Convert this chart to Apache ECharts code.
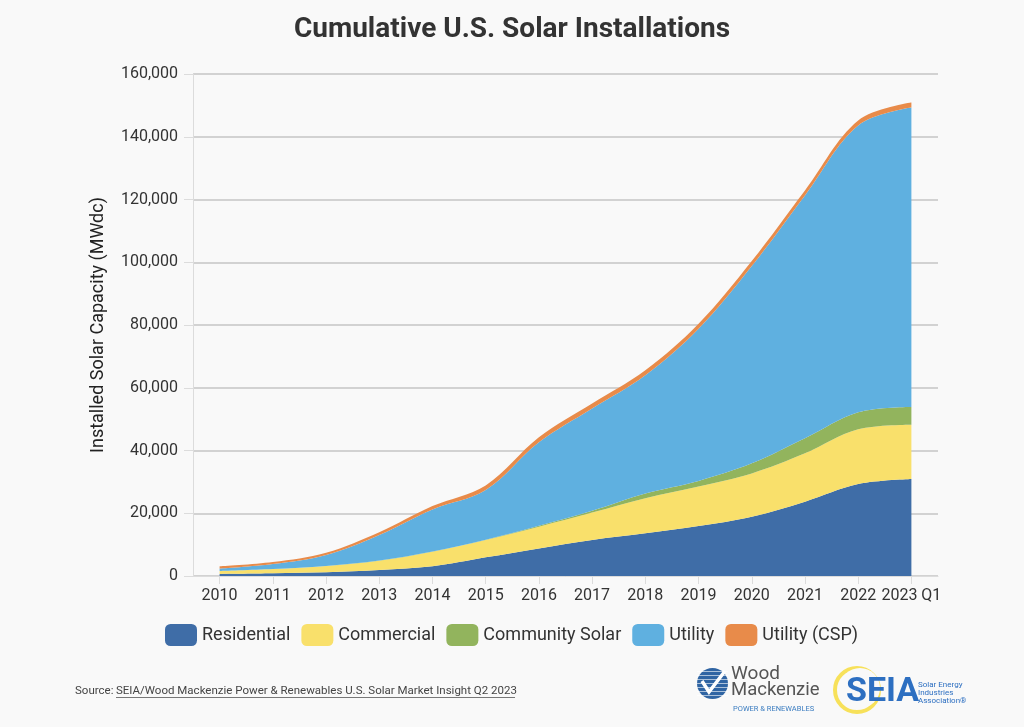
<!DOCTYPE html>
<html>
<head>
<meta charset="utf-8">
<script src="https://cdn.jsdelivr.net/npm/echarts@6/dist/echarts.min.js"></script>
<style>
html,body{margin:0;padding:0;background:#f9f9f9;}
#chart{width:1024px;height:727px;}
</style>
</head>
<body>
<div id="chart"></div>
<script>
const categories = ['2010','2011','2012','2013','2014','2015','2016','2017','2018','2019','2020','2021','2022','2023 Q1'];
const residential = [640, 850, 1170, 1910, 3090, 5950, 8800, 11500, 13600, 15900, 18900, 23700, 29300, 30900];
const commercial = [960, 1380, 2020, 2980, 4660, 5500, 6900, 8700, 11200, 12600, 13800, 15400, 17450, 17300];
const communitySolar = [0, 0, 0, 20, 50, 100, 300, 600, 1500, 1800, 3200, 4800, 5450, 5700];
const utility = [740, 1570, 3510, 8160, 13400, 15830, 26600, 32600, 37700, 48500, 62900, 77400, 91400, 95400];
const utilityCSP = [760, 660, 740, 900, 1100, 1500, 1600, 1600, 1600, 1600, 1600, 1600, 1600, 1600];
const yTicks = [0, 20000, 40000, 60000, 80000, 100000, 120000, 140000, 160000];

const seriesDefs = [
  ['Residential', residential, '#3f6da7'],
  ['Commercial', commercial, '#f9e06b'],
  ['Community Solar', communitySolar, '#92b45d'],
  ['Utility', utility, '#5fb0e0'],
  ['Utility (CSP)', utilityCSP, '#e88b4a']
];

const chart = echarts.init(document.getElementById('chart'), null, {renderer:'canvas'});
const font = 'Roboto, "Noto Sans", sans-serif';

chart.setOption({
  backgroundColor: '#f9f9f9',
  textStyle: {fontFamily: font},
  title: {
    text: 'Cumulative U.S. Solar Installations',
    left: 'center', top: 11,
    textStyle: {fontFamily: font, fontSize: 28, fontWeight: 'bold', color: '#333'}
  },
  legend: {
    left: 160, top: 619,
    itemWidth: 32, itemHeight: 22, itemGap: 11,
    icon: 'roundRect',
    textStyle: {fontSize: 18, color: '#333', fontFamily: font},
    data: seriesDefs.map(d => d[0])
  },
  grid: {left: 193, right: 86, top: 74, bottom: 151, containLabel: false},
  xAxis: {
    type: 'category',
    data: categories,
    boundaryGap: true,
    axisLine: {show: true, lineStyle: {color: '#dcdcdc', width: 1}},
    axisTick: {show: true, alignWithLabel: true, length: 8, lineStyle: {color: '#dcdcdc'}},
    axisLabel: {fontSize: 16, color: '#333', margin: 12, interval: 0}
  },
  yAxis: {
    type: 'value',
    min: yTicks[0], max: yTicks[yTicks.length-1], interval: yTicks[1]-yTicks[0],
    name: 'Installed Solar Capacity (MWdc)',
    nameLocation: 'middle', nameGap: 86,
    nameTextStyle: {fontSize: 18, color: '#222', fontFamily: font},
    axisLine: {show: true, lineStyle: {color: '#dcdcdc'}},
    axisTick: {show: true, length: 9, lineStyle: {color: '#dcdcdc'}},
    axisLabel: {fontSize: 16, color: '#333', margin: 15,
      formatter: v => v.toLocaleString('en-US')},
    splitLine: {show: true, lineStyle: {color: '#d2d2d2', width: 2}}
  },
  series: seriesDefs.map(d => ({
    name: d[0], type: 'line', stack: 'total', data: d[1],
    smooth: 0.35, symbol: 'none',
    itemStyle: {color: d[2]},
    lineStyle: {width: 0, color: d[2]},
    areaStyle: {color: d[2], opacity: 1}
  })),
  graphic: [
    {type: 'text', left: 75, top: 685, style: {text: 'Source:', fontSize: 11.5, fill: '#444', fontFamily: font}},
    {type: 'text', left: 116, top: 685, style: {text: 'SEIA/Wood Mackenzie Power & Renewables U.S. Solar Market Insight Q2 2023', fontSize: 11.5, fill: '#444', fontFamily: font}},
    {type: 'line', shape: {x1: 116, y1: 697.5, x2: 515, y2: 697.5}, style: {stroke: '#777', lineWidth: 1}},
    // Wood Mackenzie logo
    {type: 'circle', shape: {cx: 712.5, cy: 683.5, r: 15.5}, style: {fill: '#2f64a3'}},
    {type: 'group', children: [3,7,11,15,19,23,27].map(dy => ({
      type: 'line', shape: {x1: 697, y1: 668 + dy + 0.5, x2: 728, y2: 668 + dy + 0.5}, style: {stroke: '#ffffff', lineWidth: 1, opacity: 0.6}
    }))},
    {type: 'polyline', shape: {points: [[702, 681], [709, 692], [725, 671]]}, style: {stroke: '#ffffff', lineWidth: 3.5, fill: null}},
    {type: 'text', left: 731, top: 665, style: {text: 'Wood', fontSize: 19, fill: '#555', fontFamily: font}},
    {type: 'text', left: 731, top: 681, style: {text: 'Mackenzie', fontSize: 18.5, fill: '#555', fontFamily: font}},
    {type: 'text', left: 733, top: 705, style: {text: 'POWER & RENEWABLES', fontSize: 7.5, fill: '#3a7cc0', fontFamily: font}},
    // SEIA logo
    {type: 'circle', shape: {cx: 857, cy: 690, r: 22}, style: {fill: 'none', stroke: '#f7e15a', lineWidth: 4}},
    {type: 'circle', shape: {cx: 860, cy: 688, r: 20}, style: {fill: '#f9f9f9'}},
    {type: 'text', left: 846, top: 675, style: {text: 'SEIA', fontSize: 34, fontWeight: 'bold', fill: '#2d6fc1', fontFamily: font}},
    {type: 'text', left: 918, top: 681, style: {text: 'Solar Energy\nIndustries\nAssociation®', fontSize: 8, lineHeight: 8, fill: '#2d6fc1', fontFamily: font}}
  ]
});
</script>
</body>
</html>
